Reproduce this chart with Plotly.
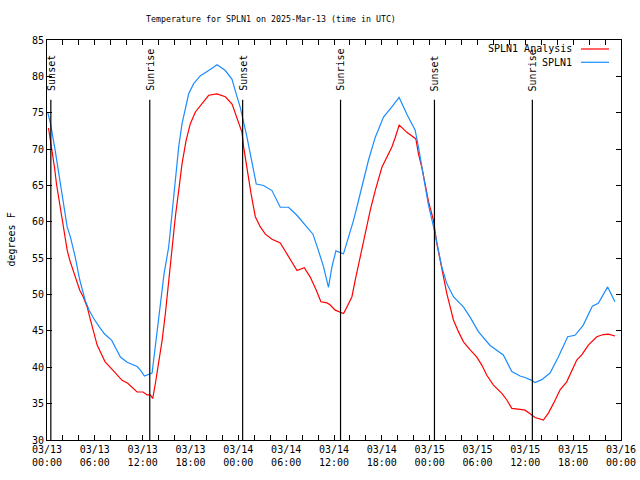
import pandas as pd
import plotly.graph_objects as go

BASE = pd.Timestamp("2025-03-13 00:00")

# SPLN1 observations (hours after 03/13 00:00 UTC, degrees F)
obs_hours = [0.1, 0.44, 1.03, 1.53, 2.03, 2.53, 2.94, 3.53, 4.11, 4.79, 5.29, 5.86, 6.54, 7.2,
             8.12, 8.71, 9.21, 10.05, 11.3, 11.72, 12.22, 13.18, 13.68, 14.1, 14.69, 15.26,
             15.69, 16.1, 16.52, 16.94, 17.36, 17.77, 18.4, 19.24, 20.28, 21.33, 22.37, 23.21,
             23.62, 24.25, 25.09, 25.5, 25.91, 26.25, 27.17, 28.22, 29.26, 30.3, 31.35, 32.39,
             33.36, 34.06, 34.69, 35.31, 35.74, 36.24, 36.65, 37.19, 37.82, 38.45, 39.07, 39.7,
             40.33, 41.17, 42.21, 43.26, 44.17, 45.14, 46.18, 46.59, 47.02, 47.43, 47.85, 48.6,
             49.1, 49.52, 50.15, 50.98, 52.23, 53.07, 54.11, 55.58, 57.24, 58.3, 59.34, 59.96,
             60.8, 61.22, 62.06, 63.1, 64.14, 65.31, 66.23, 67.27, 68.4, 69.15, 70.33, 71.24]
obs_temps = [75.0, 73.5, 69.8, 66.2, 62.5, 59.3, 57.9, 55.2, 52.0, 49.2, 47.85, 46.7, 45.6, 44.6,
             43.7, 42.4, 41.4, 40.7, 40.1, 39.6, 38.8, 39.2, 43.7, 47.4, 52.9, 56.5,
             61.1, 64.8, 70.3, 73.5, 75.8, 77.6, 79.0, 80.1, 80.8, 81.6, 80.8, 79.6,
             78.0, 75.7, 71.6, 69.4, 67.0, 65.2, 65.0, 64.3, 62.0, 62.0, 60.9, 59.5,
             58.3, 56.0, 53.8, 51.0, 53.8, 56.0, 55.8, 55.6, 57.9, 60.2, 62.9, 65.7,
             68.5, 71.6, 74.4, 75.8, 77.1, 74.8, 72.6, 70.3, 67.5, 64.8, 62.3, 58.8,
             56.1, 53.8, 51.5, 49.7, 48.3, 46.9, 44.9, 43.0, 41.7, 39.4, 38.8, 38.6,
             38.2, 37.9, 38.3, 39.2, 41.4, 44.2, 44.4, 45.8, 48.4, 48.8, 51.05, 49.0]

# SPLN1 Analysis
ana_hours = [0.19, 0.44, 0.69, 0.94, 1.19, 1.44, 1.69, 1.94, 2.19, 2.53, 2.86, 3.28, 3.70, 4.11,
             4.54, 5.04, 5.36, 5.79, 6.29, 6.79, 7.29, 8.05, 8.80, 9.42, 10.13, 10.80, 11.30,
             12.06, 12.56, 12.97, 13.26, 13.60, 14.01, 14.44, 14.85, 15.26, 15.69, 16.10, 16.52,
             16.94, 17.45, 17.98, 18.61, 19.45, 20.28, 21.33, 22.37, 23.21, 23.62, 24.04, 24.46,
             24.66, 25.09, 25.59, 26.13, 26.76, 27.39, 28.22, 29.26, 30.10, 30.73, 31.36, 32.27,
             33.02, 33.78, 34.36, 35.12, 35.50, 36.16, 37.20, 37.62, 38.25, 38.66, 39.29, 39.92,
             40.55, 41.17, 42.01, 42.64, 43.26, 43.68, 44.18, 45.14, 45.97, 46.27, 46.60, 47.02,
             47.43, 47.85, 48.48, 48.90, 49.32, 49.73, 50.16, 50.57, 50.98, 51.61, 52.24, 53.08,
             53.92, 54.54, 55.17, 56.00, 57.05, 57.68, 58.30, 59.34, 59.97, 60.60, 61.22, 62.26,
             62.89, 63.52, 64.36, 65.19, 65.82, 66.45, 67.08, 67.90, 68.96, 69.78, 70.41, 71.25]
ana_temps = [72.9, 71.2, 69.8, 67.5, 65.2, 63.4, 61.6, 59.8, 57.9, 56.1, 54.7, 53.3, 51.97, 50.6,
             49.7, 48.3, 46.9, 45.1, 43.05, 41.9, 40.75, 39.85, 38.9, 38.2, 37.8, 37.1, 36.6,
             36.6, 36.2, 36.2, 35.7, 37.8, 40.5, 43.7, 47.4, 51.97, 56.5, 60.7, 64.3,
             68.0, 71.2, 73.5, 75.1, 76.2, 77.4, 77.6, 77.2, 76.2, 75.0, 73.5, 72.3,
             70.3, 67.1, 63.9, 60.7, 59.3, 58.3, 57.6, 57.1, 55.6, 54.5, 53.3, 53.7,
             52.4, 50.6, 49.0, 48.85, 48.6, 47.85, 47.4, 48.3, 49.7, 51.97, 55.2, 58.4,
             61.6, 64.3, 67.5, 68.9, 70.3, 71.6, 73.3, 72.3, 71.7, 71.4, 69.3, 67.5,
             65.2, 62.8, 60.2, 57.0, 54.7, 52.4, 50.1, 48.3, 46.5, 44.9, 43.5, 42.4,
             41.4, 40.3, 38.9, 37.55, 36.4, 35.5, 34.35, 34.2, 34.1, 33.6, 33.1, 32.75,
             33.7, 35.0, 36.9, 38.0, 39.4, 41.0, 41.7, 43.05, 44.2, 44.5, 44.55, 44.3]

# Sun events (hours after 03/13 00:00 UTC)
event_hours = [0.48, 12.89, 24.54, 36.82, 48.6, 60.88]
event_names = ["Sunset", "Sunrise", "Sunset", "Sunrise", "Sunset", "Sunrise"]

# Axis ticks
tick_hours = list(range(0, 73, 6))
tick_labels = [(BASE + pd.Timedelta(hours=h)).strftime("%m/%d<br>%H:%M") for h in tick_hours]
y_ticks = list(range(30, 90, 5))

series_names = ["SPLN1 Analysis", "SPLN1"]
series_colors = ["#ff0000", "#1a8cff"]


def to_time(hours):
    return [BASE + pd.Timedelta(hours=h) for h in hours]


FONT = "DejaVu Sans Mono"

fig = go.Figure()
fig.add_trace(go.Scatter(x=to_time(ana_hours), y=ana_temps, mode="lines",
                         name=series_names[0], line=dict(color=series_colors[0], width=1.2),
                         showlegend=False))
fig.add_trace(go.Scatter(x=to_time(obs_hours), y=obs_temps, mode="lines",
                         name=series_names[1], line=dict(color=series_colors[1], width=1.2),
                         showlegend=False))

for h, name in zip(event_hours, event_names):
    t = BASE + pd.Timedelta(hours=h)
    fig.add_shape(type="line", xref="x", yref="y", x0=t, x1=t, y0=30, y1=76.8,
                  line=dict(color="black", width=1.2))
    fig.add_annotation(x=t, y=77.7, xref="x", yref="y", text=name, textangle=-90,
                       showarrow=False, xanchor="center", yanchor="bottom",
                       font=dict(family=FONT, size=10, color="black"))

# gnuplot-style key (text, then line sample)
for i, (nm, col) in enumerate(zip(series_names, series_colors)):
    ypix = 49 + 13.3 * i
    yp = 1 - (ypix - 40) / 400
    fig.add_annotation(x=(574 - 46.5) / 574.5, y=yp, xref="paper", yref="paper", text=nm,
                       showarrow=False, xanchor="right", yanchor="middle",
                       font=dict(family=FONT, size=10, color="black"))
    fig.add_shape(type="line", xref="paper", yref="paper",
                  x0=(581 - 46.5) / 574.5, x1=(609 - 46.5) / 574.5, y0=yp, y1=yp,
                  line=dict(color=col, width=1.2))

fig.add_annotation(x=(10 - 46.5) / 574.5, y=0.5, xref="paper", yref="paper", text="degrees F",
                   textangle=-90, showarrow=False, xanchor="center", yanchor="middle",
                   font=dict(family=FONT, size=10, color="black"))

fig.update_layout(
    width=640, height=480,
    margin=dict(l=47, r=19, t=40, b=40, autoexpand=False),
    paper_bgcolor="white", plot_bgcolor="white",
    title=dict(text="Temperature for SPLN1 on 2025-Mar-13 (time in UTC)", x=271 / 640,
               xanchor="center", y=1 - 19 / 480, yanchor="middle",
               font=dict(family=FONT, size=8.3, color="black")),
    font=dict(family=FONT, size=10, color="black"),
)

fig.update_xaxes(
    type="date", range=[BASE, BASE + pd.Timedelta(hours=72)], automargin=False,
    tickvals=to_time(tick_hours), ticktext=tick_labels,
    ticks="inside", ticklen=5, tickcolor="black", tickwidth=1,
    minor=dict(dtick=2 * 3600 * 1000, tick0=BASE, ticks="inside", ticklen=5, tickcolor="black"),
    showline=True, linecolor="black", linewidth=1, mirror="ticks",
    showgrid=False, zeroline=False, tickfont=dict(family=FONT, size=10),
)
fig.update_yaxes(
    range=[30, 85], tickvals=y_ticks, automargin=False,
    ticks="inside", ticklen=5, tickcolor="black", tickwidth=1,
    showline=True, linecolor="black", linewidth=1, mirror="ticks",
    showgrid=False, zeroline=False, tickfont=dict(family=FONT, size=10),
)

fig.write_html("out.html")
